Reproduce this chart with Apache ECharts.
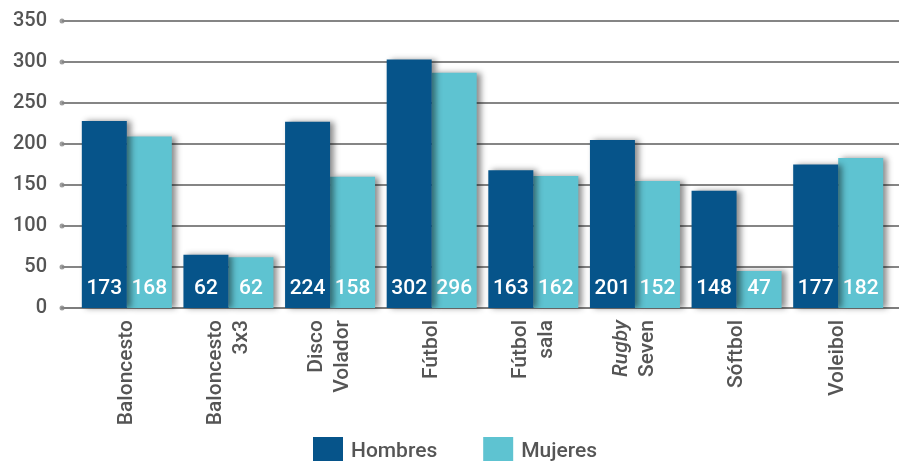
<!DOCTYPE html>
<html><head><meta charset="utf-8">
<script src="https://cdn.jsdelivr.net/npm/echarts@6/dist/echarts.min.js"></script>
<style>html,body{margin:0;padding:0;background:#fff}#c{width:899px;height:461px}</style>
</head><body><div id="c"></div>
<script>
const categories = ['Baloncesto','Baloncesto\n3x3','Disco\nVolador','Fútbol','Fútbol\nsala','Rugby\nSeven','Sóftbol','Voleibol'];
const seriesNames = ['Hombres','Mujeres'];
const hombres = [228, 65, 227, 303, 168, 205, 143, 175];
const mujeres = [209, 62, 160, 287, 161, 155, 45, 183];
const hombresLabels = [173, 62, 224, 302, 163, 201, 148, 177];
const mujeresLabels = [168, 62, 158, 296, 162, 152, 47, 182];
const yTicks = [0, 50, 100, 150, 200, 250, 300, 350];

(function () {
const FONT = 'Roboto';
const GRAY = '#555';
const chart = echarts.init(document.getElementById('c'));
const gTop = 21, gBottom = 153;
function barSeries(name, vals, labels, color, z) {
  return {
    name: name, type: 'bar', xAxisIndex: 1, yAxisIndex: 1, z: z,
    barWidth: 45, barGap: '0%',
    data: vals,
    itemStyle: { color: color, shadowColor: 'rgba(0,0,0,0.45)', shadowBlur: 6, shadowOffsetX: 4, shadowOffsetY: 0 },
    label: { show: true, position: 'insideBottom', distance: 9, color: '#fff', fontFamily: FONT, fontSize: 21, fontWeight: 500,
      formatter: p => String(labels[p.dataIndex]) }
  };
}
chart.setOption({
  animation: false,
  textStyle: { fontFamily: FONT },
  grid: [
    { left: 62, right: 0, top: gTop, bottom: gBottom },
    { left: 76, width: 813, top: gTop, bottom: gBottom }
  ],
  legend: {
    data: seriesNames, top: 432, left: 308, itemWidth: 30, itemHeight: 29, itemGap: 46,
    icon: 'rect', textStyle: { color: GRAY, fontFamily: FONT, fontSize: 21, fontWeight: 500, padding: [0, 0, 0, 3] }
  },
  xAxis: [
    { gridIndex: 0, type: 'value', min: 0, max: 1, show: true,
      axisLine: { show: true, onZero: true, lineStyle: { color: '#7d7d7d', width: 2 } },
      axisTick: { show: false }, axisLabel: { show: false }, splitLine: { show: false } },
    { gridIndex: 1, type: 'category', data: categories,
      axisLine: { show: false }, axisTick: { show: false },
      axisLabel: { rotate: 90, margin: 12, color: GRAY, fontFamily: FONT, fontSize: 21, fontWeight: 500, lineHeight: 26,
        formatter: v => v.replace('Rugby', '{i|Rugby}'),
        rich: { i: { fontStyle: 'italic', color: GRAY, fontFamily: FONT, fontSize: 21, fontWeight: 500, lineHeight: 26 } } } }
  ],
  yAxis: [
    { gridIndex: 0, type: 'value', min: 0, max: 350, interval: 50,
      axisLine: { show: false }, axisTick: { show: false },
      axisLabel: { color: GRAY, fontFamily: FONT, fontSize: 20, fontWeight: 500, margin: 15 },
      splitLine: { lineStyle: { color: '#858585', width: 2 } } },
    { gridIndex: 1, type: 'value', min: 0, max: 350, interval: 50, show: false, splitLine: { show: false } }
  ],
  series: [
    { type: 'scatter', xAxisIndex: 0, yAxisIndex: 0, symbol: 'circle', symbolSize: 5, silent: true,
      itemStyle: { color: '#858585' }, data: yTicks.map(t => [0, t]), z: 1 },
    barSeries('Hombres', hombres, hombresLabels, '#06548a', 4),
    barSeries('Mujeres', mujeres, mujeresLabels, '#5ec3d1', 3)
  ]
});
})();
</script></body></html>
